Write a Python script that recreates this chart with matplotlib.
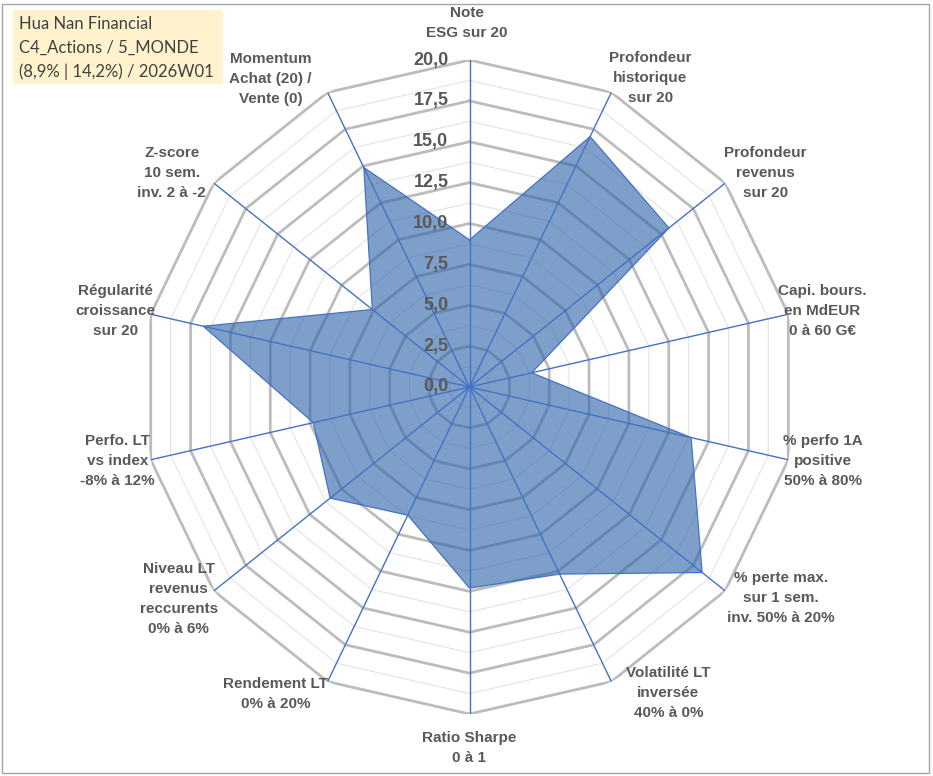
import numpy as np
import matplotlib
matplotlib.use("Agg")
import matplotlib.pyplot as plt
from matplotlib.patches import Rectangle

# ---------------- data ----------------
categories = [
    "Note\nESG sur 20",
    "Profondeur\nhistorique\nsur 20",
    "Profondeur\nrevenus\nsur 20",
    "Capi. bours.\nen MdEUR\n0 à 60 G€",
    "% perfo 1A\npositive\n50% à 80%",
    "% perte max.\nsur 1 sem.\ninv. 50% à 20%",
    "Volatilité LT\ninversée\n40% à 0%",
    "Ratio Sharpe\n0 à 1",
    "Rendement LT\n0% à 20%",
    "Niveau LT\nrevenus\nreccurents\n0% à 6%",
    "Perfo. LT\nvs index\n-8% à 12%",
    "Régularité\ncroissance\nsur 20",
    "Z-score\n10 sem.\ninv. 2 à -2",
    "Momentum\nAchat (20) /\nVente (0)",
]
values = [9.0, 17.0, 15.6, 3.9, 13.9, 18.2, 12.7, 12.3, 8.7, 10.9, 9.8, 16.7, 7.6, 14.9]
r_ticks = [0.0, 2.5, 5.0, 7.5, 10.0, 12.5, 15.0, 17.5, 20.0]
r_minor = [1.25, 3.75, 6.25, 8.75, 11.25, 13.75, 16.25, 18.75]
r_max = 20.0
title_lines = ["Hua Nan Financial", "C4_Actions / 5_MONDE", "(8,9% | 14,2%) / 2026W01"]

# label offsets (pixels) from the outer vertex of each axis
label_offsets = [(-3, 37), (39, 14), (40, 10), (34, 3), (35, -1), (56, -7), (57, -11),
                 (0, -34), (-52, -12), (-35, -8), (-33, -1), (-35, 3), (-42, 10), (-57, 13)]

# ---------------- figure ----------------
W, H, DPI = 933, 776, 100
fig = plt.figure(figsize=(W / DPI, H / DPI), dpi=DPI)
fig.patch.set_facecolor("white")

cx, cy, R = 469.5, 387.0, 327.0
ax = fig.add_axes([(cx - R) / W, (H - cy - R) / H, 2 * R / W, 2 * R / H], projection="polar")
ax.set_theta_zero_location("N")
ax.set_theta_direction(-1)
ax.set_ylim(0, r_max)
ax.grid(False)
ax.set_xticks([])
ax.set_yticks([])
ax.spines["polar"].set_visible(False)
ax.patch.set_alpha(0)

n = len(categories)
theta = np.arange(n) * 2 * np.pi / n
theta_c = np.append(theta, theta[0])

# minor rings
for r in r_minor:
    ax.plot(theta_c, [r] * (n + 1), color="#E3E3E3", lw=0.8, zorder=1)
# major rings
for r in r_ticks[1:]:
    ax.plot(theta_c, [r] * (n + 1), color="#BCBCBC", lw=2.0, zorder=2)

# data polygon
vals_c = np.append(values, values[0])
ax.fill(theta_c, vals_c, facecolor="#2E64A8", alpha=0.62, zorder=3)
ax.plot(theta_c, vals_c, color="#4472C4", lw=0.9, zorder=4)

# spokes
for t in theta:
    ax.plot([t, t], [0, r_max], color="#4472C4", lw=1.0, zorder=5)

# radial tick labels
for r in r_ticks:
    ax.annotate(f"{r:.1f}".replace(".", ","), xy=(0, r), xytext=(-21, 0),
                textcoords="offset pixels", ha="right", va="center",
                fontsize=13, fontweight="bold", color="#595959",
                family="Liberation Sans", zorder=6)

# category labels
for t, lab, (dx, dy) in zip(theta, categories, label_offsets):
    ax.annotate(lab, xy=(t, r_max), xytext=(dx, dy), textcoords="offset pixels",
                ha="center", va="center", multialignment="center",
                fontsize=11, fontweight="bold", color="#595959",
                family="Liberation Sans", linespacing=1.55, annotation_clip=False)

# title box
fig.patches.append(Rectangle((13 / W, 1 - 84 / H), 210 / W, 74 / H, transform=fig.transFigure,
                             facecolor="#FFF2CC", edgecolor="none", zorder=0))
for i, line in enumerate(title_lines):
    fig.text(19 / W, 1 - (24 + 24 * i) / H, line, ha="left", va="center",
             fontsize=12, color="#404040", family="Lato")

# outer frame
fig.patches.append(Rectangle((1.5 / W, 3 / H), (927 / W), (769 / H), transform=fig.transFigure,
                             facecolor="none", edgecolor="#A6A6A6", lw=1.0, zorder=10))

fig.savefig("out.png", dpi=DPI, facecolor="white")
